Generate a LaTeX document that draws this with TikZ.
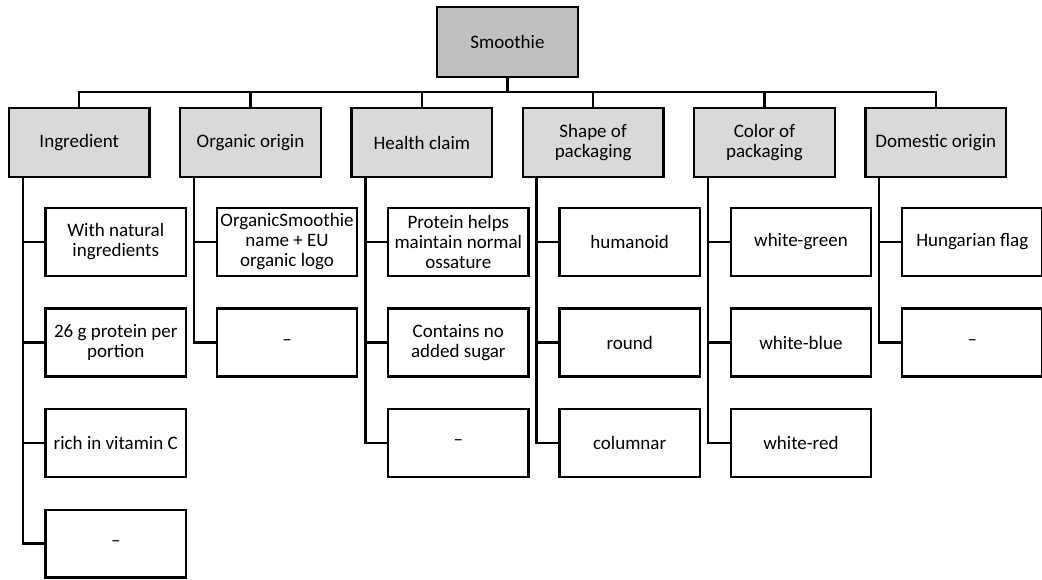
\documentclass[tikz,border=0pt]{standalone}
\usepackage{fontspec}
\setmainfont{Carlito}
\usepackage{tikz}
\usetikzlibrary{shapes}
\usetikzlibrary{arrows,positioning}
\definecolor{topgray}{RGB}{192,192,192}
\definecolor{catgray}{RGB}{217,217,217}
\tikzstyle{topbox}=[rectangle, draw=black, line width=2.4pt, fill=topgray, minimum width=140.6pt, minimum height=69.6pt, inner sep=0pt, align=center]
\tikzstyle{catbox}=[rectangle, draw=black, line width=2.4pt, fill=catgray, minimum width=140.6pt, minimum height=68.6pt, inner sep=0pt, align=center]
\tikzstyle{leafbox}=[rectangle, draw=black, line width=2.4pt, fill=white, minimum width=140.1pt, minimum height=67.6pt, inner sep=0pt, align=center]
\tikzstyle{bus}=[line width=2.2pt, to path={(\tikztostart) -- ++(0,-14pt) -| (\tikztotarget)}]
\tikzstyle{trunk}=[line width=2.4pt, to path={(\tikztostart) |- (\tikztotarget)}]

\begin{document}
\begin{tikzpicture}[font=\fontsize{19}{20}\selectfont]
\useasboundingbox (-507.5pt,42pt) rectangle (534.5pt,-538pt);
%
  \node[topbox] (smo) at (0,0) {Smoothie};
%
  \node[catbox] (hea) [below = 29pt of smo, xshift=-85.65pt] {Health claim};
  \node[catbox] (org) [left = 28.3pt of hea] {Organic origin};
  \node[catbox] (ing) [left = 28.3pt of org] {Ingredient};
  \node[catbox] (sha) [right = 28.3pt of hea] {Shape of\\packaging};
  \node[catbox] (col) [right = 28.3pt of sha] {Color of\\packaging};
  \node[catbox] (dom) [right = 28.3pt of col] {Domestic origin};
%
  \path[bus]
  (smo.south) edge (ing.north)
  (smo.south) edge (org.north)
  (smo.south) edge (hea.north)
  (smo.south) edge (sha.north)
  (smo.south) edge (col.north)
  (smo.south) edge (dom.north);
%
  \node[leafbox] (ing1) [below = 29pt of ing, xshift=36.5pt] {With natural\\ingredients};
  \node[leafbox] (ing2) [below = 30.5pt of ing1] {26 g protein per\\portion};
  \node[leafbox] (ing3) [below = 30.5pt of ing2] {rich in vitamin C};
  \node[leafbox] (ing4) [below = 30.5pt of ing3] {--};
  \coordinate (ingt) at ([xshift=15pt]ing.south west);
%
  \path[trunk]
  (ingt) edge (ing1.west)
  (ingt) edge (ing2.west)
  (ingt) edge (ing3.west)
  (ingt) edge (ing4.west);
%
  \node[leafbox] (org1) [below = 29pt of org, xshift=36.5pt] {OrganicSmoothie\\name + EU\\organic logo};
  \node[leafbox] (org2) [below = 30.5pt of org1] {--};
  \coordinate (orgt) at ([xshift=15pt]org.south west);
%
  \path[trunk]
  (orgt) edge (org1.west)
  (orgt) edge (org2.west);
%
  \node[leafbox] (hea1) [below = 29pt of hea, xshift=36.5pt] {Protein helps\\maintain normal\\ossature};
  \node[leafbox] (hea2) [below = 30.5pt of hea1] {Contains no\\added sugar};
  \node[leafbox] (hea3) [below = 30.5pt of hea2] {--};
  \coordinate (heat) at ([xshift=15pt]hea.south west);
%
  \path[trunk]
  (heat) edge (hea1.west)
  (heat) edge (hea2.west)
  (heat) edge (hea3.west);
%
  \node[leafbox] (sha1) [below = 29pt of sha, xshift=36.5pt] {humanoid};
  \node[leafbox] (sha2) [below = 30.5pt of sha1] {round};
  \node[leafbox] (sha3) [below = 30.5pt of sha2] {columnar};
  \coordinate (shat) at ([xshift=15pt]sha.south west);
%
  \path[trunk]
  (shat) edge (sha1.west)
  (shat) edge (sha2.west)
  (shat) edge (sha3.west);
%
  \node[leafbox] (col1) [below = 29pt of col, xshift=36.5pt] {white-green};
  \node[leafbox] (col2) [below = 30.5pt of col1] {white-blue};
  \node[leafbox] (col3) [below = 30.5pt of col2] {white-red};
  \coordinate (colt) at ([xshift=15pt]col.south west);
%
  \path[trunk]
  (colt) edge (col1.west)
  (colt) edge (col2.west)
  (colt) edge (col3.west);
%
  \node[leafbox] (dom1) [below = 29pt of dom, xshift=36.5pt] {Hungarian flag};
  \node[leafbox] (dom2) [below = 30.5pt of dom1] {--};
  \coordinate (domt) at ([xshift=15pt]dom.south west);
%
  \path[trunk]
  (domt) edge (dom1.west)
  (domt) edge (dom2.west);
\end{tikzpicture}
\end{document}
